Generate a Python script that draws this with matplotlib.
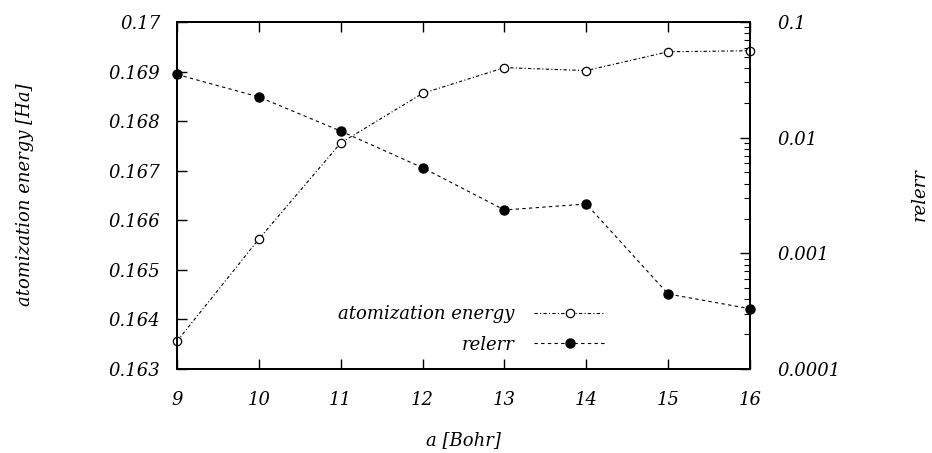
import matplotlib
matplotlib.use("Agg")
import matplotlib.pyplot as plt
from matplotlib.ticker import FixedLocator, LogLocator, NullFormatter

# lattice constant a [Bohr]
a_bohr = [9, 10, 11, 12, 13, 14, 15, 16]
# atomization energy [Ha] (left axis)
atom_energy = [0.16356, 0.16562, 0.16756, 0.16856, 0.16908, 0.16902, 0.16940, 0.16942]
# relative error (right axis, log)
relerr = [0.0352, 0.0225, 0.0114, 0.0055, 0.00237, 0.00267, 0.000445, 0.000332]

left_ticks = [0.163, 0.164, 0.165, 0.166, 0.167, 0.168, 0.169, 0.170]
left_labels = ["0.163", "0.164", "0.165", "0.166", "0.167", "0.168", "0.169", "0.17"]
right_ticks = [1e-4, 1e-3, 1e-2, 1e-1]
right_labels = ["0.0001", "0.001", "0.01", "0.1"]

plt.rcParams["font.family"] = ["DejaVu Serif"]
plt.rcParams["font.style"] = "italic"
FS = 13

fig = plt.figure(figsize=(9.32, 4.53), dpi=100)
ax = fig.add_axes([177 / 932, 1 - 369 / 453, (750 - 177) / 932, (369 - 22) / 453])
ax2 = ax.twinx()

l1, = ax.plot(a_bohr, atom_energy, color="black", lw=0.8, dashes=[3, 2, 1, 2],
              marker="o", ms=6, mfc="white", mec="black", mew=0.9, clip_on=False,
              label="atomization energy")
l2, = ax2.plot(a_bohr, relerr, color="black", lw=0.8, dashes=[3, 3],
               marker="o", ms=6.5, mfc="black", mec="black", clip_on=False,
               label="relerr")
ax.set_zorder(ax2.get_zorder() + 1)
ax.patch.set_visible(False)

ax.set_xlim(9, 16)
ax.set_ylim(0.163, 0.170)
ax.set_xticks(a_bohr)
ax.set_xticklabels([str(v) for v in a_bohr], fontsize=FS)
ax.yaxis.set_major_locator(FixedLocator(left_ticks))
ax.set_yticklabels(left_labels, fontsize=FS)
ax.tick_params(axis="y", which="both", direction="in", left=True, right=False,
               length=7, width=1, pad=12)
ax.tick_params(axis="x", which="both", direction="in", top=True, bottom=True,
               length=7, width=1, pad=16)

ax2.set_yscale("log")
ax2.set_ylim(1e-4, 1e-1)
ax2.yaxis.set_major_locator(FixedLocator(right_ticks))
ax2.set_yticklabels(right_labels, fontsize=FS)
ax2.yaxis.set_minor_locator(LogLocator(base=10, subs=range(2, 10)))
ax2.yaxis.set_minor_formatter(NullFormatter())
ax2.tick_params(axis="y", which="major", direction="in", length=7, width=1, pad=20)
ax2.tick_params(axis="y", which="minor", direction="in", length=4, width=0.8)

for a_ in (ax, ax2):
    for s in a_.spines.values():
        s.set_linewidth(1.4)

fig.text(25 / 932, 1 - 195 / 453, "atomization energy [Ha]", rotation=90,
         ha="center", va="center", fontsize=FS)
fig.text(920 / 932, 1 - 195 / 453, "relerr", rotation=90,
         ha="center", va="center", fontsize=FS)
fig.text(463 / 932, 1 - 440 / 453, "a [Bohr]", ha="center", va="center", fontsize=FS)

leg = ax.legend(handles=[l1, l2], loc="lower right", bbox_to_anchor=(612 / 932, 1 - 361 / 453),
                bbox_transform=fig.transFigure, frameon=False, markerfirst=False,
                numpoints=1, handlelength=3.9, fontsize=FS, labelspacing=0.7,
                handletextpad=1.1, borderaxespad=0)
for t in leg.get_texts():
    t.set_ha("right")
leg._legend_box.align = "right"

fig.savefig("out.png", dpi=100)
